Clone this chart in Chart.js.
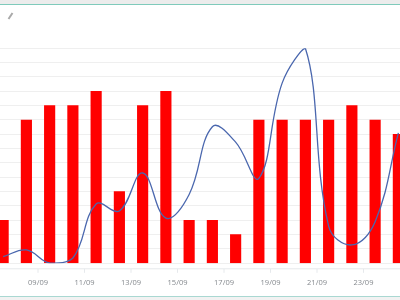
<!DOCTYPE html>
<html>
<head>
<meta charset="utf-8">
<style>
  html, body { margin: 0; padding: 0; background: #fff; overflow: hidden; }
  #wrap { position: absolute; left: 0; top: 0; width: 400px; height: 300px; }
  #frame { position: absolute; left: -2px; top: 4px; width: 404px; height: 291px; border-top: 1px solid #7fcabb; border-bottom: 1px solid #a9d8d2; }
  #topbar { position: absolute; left: 0; top: 0; width: 400px; height: 4px; background: #ececec; }
  #botbar { position: absolute; left: 0; top: 296px; width: 400px; height: 4px; background: #f2f2f2; }
  canvas { position: absolute; left: 0; top: 0; }
</style>
<script src="https://cdn.jsdelivr.net/npm/chart.js@4"></script>
</head>
<body>
<div id="wrap">
  <div id="topbar"></div>
  <div id="botbar"></div>
  <div id="frame"></div>
  <canvas id="combo" width="400" height="300"></canvas>
</div>
<script>
const days = [7.5, 8.5, 9.5, 10.5, 11.5, 12.5, 13.5, 14.5, 15.5, 16.5, 17.5, 18.5, 19.5, 20.5, 21.5, 22.5, 23.5, 24.5];
const barValues = [3, 10, 11, 11, 12, 5, 11, 12, 3, 3, 2, 10, 10, 10, 10, 11, 10, 9];
const lineValues = [0.46, 0.93, 0.02, 0.37, 4.14, 3.65, 6.3, 3.15, 4.8, 9.53, 8.45, 5.93, 12.57, 15, 2.6, 1.28, 2.9, 9.1];
const tickDays = [9, 11, 13, 15, 17, 19, 21, 23];
const tickMonth = '09';

function toPoints(values) {
  return values.map(function (v, i) { return { x: days[i], y: v }; });
}

// the little pencil top left and the axis line that sits below the bars
const extras = {
  id: 'extras',
  afterDraw: function (chart) {
    const c = chart.ctx;
    const axisY = chart.chartArea.bottom + 5.5;
    c.save();
    c.strokeStyle = '#e6e9ec';
    c.lineWidth = 1;
    c.beginPath();
    c.moveTo(0, axisY);
    c.lineTo(400, axisY);
    chart.scales.x.ticks.forEach(function (t) {
      const px = chart.scales.x.getPixelForValue(t.value);
      c.moveTo(px, axisY);
      c.lineTo(px, axisY + 4);
    });
    c.stroke();
    c.strokeStyle = '#a9a9a9';
    c.lineWidth = 2;
    c.beginPath();
    c.moveTo(8.5, 19);
    c.lineTo(12.5, 13);
    c.stroke();
    c.restore();
  }
};

new Chart(document.getElementById('combo').getContext('2d'), {
  data: {
    datasets: [{
      type: 'line',
      data: toPoints(lineValues),
      borderColor: '#4a67ae',
      borderWidth: 1.3,
      pointRadius: 0,
      tension: 0.4,
      fill: false,
      order: 1
    }, {
      type: 'bar',
      data: toPoints(barValues),
      backgroundColor: '#ff0000',
      barThickness: 10.5,
      order: 2
    }]
  },
  options: {
    responsive: false,
    animation: false,
    layout: { padding: { top: 48.3, bottom: 0, left: 0, right: 0 } },
    plugins: { legend: { display: false }, tooltip: { enabled: false } },
    scales: {
      x: {
        type: 'linear',
        offset: false,
        min: 7.365,
        max: 24.57,
        afterBuildTicks: function (axis) {
          axis.ticks = tickDays.map(function (d) { return { value: d }; });
        },
        afterFit: function (axis) { axis.height = 36.7; },
        grid: { display: false, drawTicks: false },
        border: { display: false },
        ticks: {
          autoSkip: false,
          maxRotation: 0,
          padding: 15,
          color: '#85898e',
          font: { family: 'Open Sans', size: 7.5 },
          callback: function (v) { return String(v).padStart(2, '0') + '/' + tickMonth; }
        }
      },
      y: {
        min: 0,
        max: 15,
        afterFit: function (axis) { axis.width = 0; },
        grid: { color: '#efefef', lineWidth: 1, drawTicks: false },
        border: { display: false },
        ticks: { display: false, stepSize: 1 }
      }
    }
  },
  plugins: [extras]
});
</script>
</body>
</html>
